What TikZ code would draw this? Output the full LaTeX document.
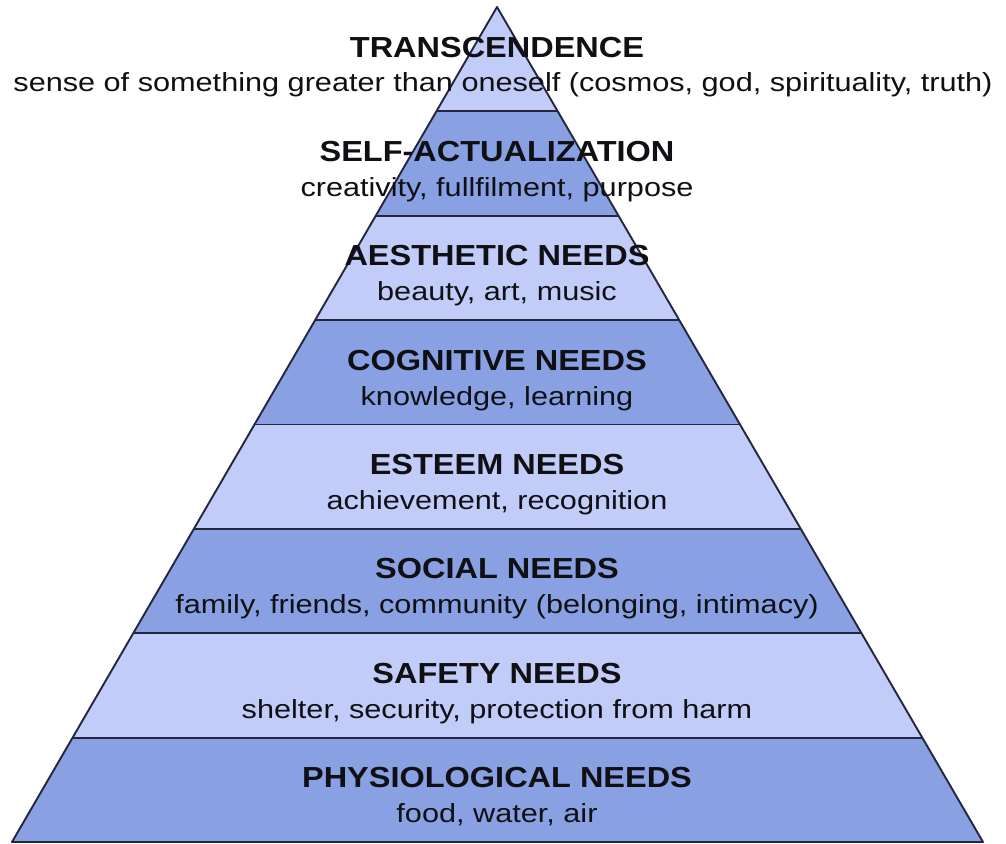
\documentclass[tikz,border=0pt]{standalone}
\usepackage{fontspec}
\setmainfont{Liberation Sans}
\definecolor{tierlight}{RGB}{193,205,248}
\definecolor{tierdark}{RGB}{137,160,226}
\definecolor{edge}{RGB}{36,38,64}
\definecolor{ink}{RGB}{16,16,20}
\begin{document}
\begin{tikzpicture}[x=1pt,y=-1pt,
  title/.style={anchor=base,inner sep=0pt,text=ink,xscale=1.12,
    font=\fontsize{29}{32}\selectfont\bfseries},
  sub/.style={anchor=base,inner sep=0pt,text=ink,xscale=1.17,
    font=\fontsize{26.2}{30}\selectfont},
  tieredge/.style={draw=edge,line width=1.9pt,line join=round}]
\useasboundingbox (0,0) rectangle (1006,843);
\fill[white] (0,0) rectangle (1006,843);
% apex (497,7), base from (12,842) to (983,842); eight tiers of equal height
\def\cx{497}
\foreach \i/\col in {0/tierlight,1/tierdark,2/tierlight,3/tierdark,
                     4/tierlight,5/tierdark,6/tierlight,7/tierdark}{
  \pgfmathsetmacro\ya{7+104.375*\i}
  \pgfmathsetmacro\yb{7+104.375*(\i+1)}
  \pgfmathsetmacro\wa{(\ya-7)*0.58144}
  \pgfmathsetmacro\wb{(\yb-7)*0.58144}
  \fill[\col] (\cx-\wa,\ya) -- (\cx+\wa,\ya) -- (\cx+\wb,\yb) -- (\cx-\wb,\yb) -- cycle;
  \ifnum\i>0
    \draw[tieredge] (\cx-\wa,\ya) -- (\cx+\wa,\ya);
  \fi
}
\draw[tieredge] (\cx,7) -- (983,842) -- (12,842) -- cycle;
% labels: title baseline at tier top + 50, subtitle baseline at tier top + 85
\node[title] (t0) at (\cx,57) {TRANSCENDENCE};
\node[sub]   (s0) at (503,91) {sense of something greater than oneself (cosmos, god, spirituality, truth)};
\node[title] (t1) at (\cx,161.4) {SELF-ACTUALIZATION};
\node[sub]   (s1) at (\cx,196.4) {creativity, fullfilment, purpose};
\node[title] (t2) at (\cx,265.8) {AESTHETIC NEEDS};
\node[sub]   (s2) at (\cx,300.8) {beauty, art, music};
\node[title] (t3) at (\cx,370.1) {COGNITIVE NEEDS};
\node[sub]   (s3) at (\cx,405.1) {knowledge, learning};
\node[title] (t4) at (\cx,474.5) {ESTEEM NEEDS};
\node[sub]   (s4) at (\cx,509.5) {achievement, recognition};
\node[title] (t5) at (\cx,578.9) {SOCIAL NEEDS};
\node[sub]   (s5) at (\cx,613.9) {family, friends, community (belonging, intimacy)};
\node[title] (t6) at (\cx,683.3) {SAFETY NEEDS};
\node[sub]   (s6) at (\cx,718.3) {shelter, security, protection from harm};
\node[title] (t7) at (\cx,787.6) {PHYSIOLOGICAL NEEDS};
\node[sub]   (s7) at (\cx,822.6) {food, water, air};
\end{tikzpicture}
\end{document}
